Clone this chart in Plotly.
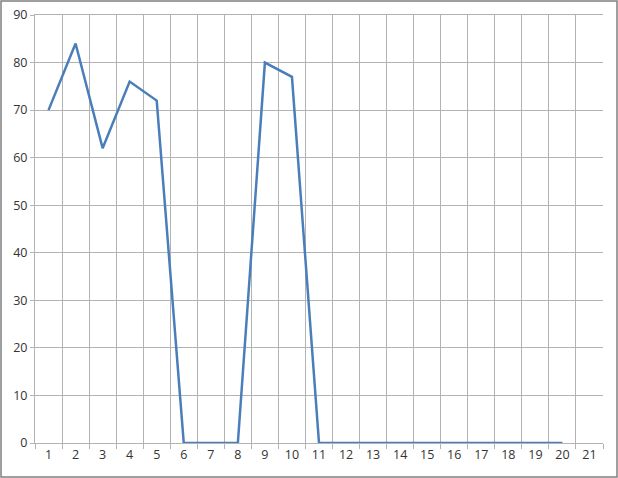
import plotly.graph_objects as go

categories = [str(i) for i in range(1, 22)]
values = [70, 84, 62, 76, 72, 0, 0, 0, 80, 77, 0, 0, 0, 0, 0, 0, 0, 0, 0, 0, None]

W, H = 618, 478
ml, mr, mt, mb = 35, 15, 15, 35
pw, ph = W - ml - mr, H - mt - mb

fig = go.Figure()
fig.add_trace(go.Scatter(x=categories, y=values, mode="lines",
                         line=dict(color="#4a7ebb", width=2.5),
                         connectgaps=False, showlegend=False))

grid = "#b3b3b3"
fig.update_layout(
    width=W, height=H,
    margin=dict(l=ml, r=mr, t=mt, b=mb, autoexpand=False),
    plot_bgcolor="white", paper_bgcolor="white",
    font=dict(family="Open Sans", size=12.5, color="#333333"),
    xaxis=dict(type="category", tickson="boundaries", showgrid=True,
               gridcolor=grid, gridwidth=1, ticks="outside", ticklen=5,
               tickcolor=grid, showline=True, linecolor=grid, linewidth=1,
               mirror=True, range=[-0.5, 20.5], zeroline=False),
    yaxis=dict(range=[0, 90], dtick=10, showgrid=True, gridcolor=grid,
               gridwidth=1, ticks="outside", ticklen=4, tickcolor=grid,
               showline=True, linecolor=grid, linewidth=1, zeroline=False),
)

# outer frame of the chart area
fig.add_shape(type="rect", xref="paper", yref="paper",
              x0=(1 - ml) / pw, x1=(W - 1 - ml) / pw,
              y0=(1 - mb) / ph, y1=(H - 1 - mb) / ph,
              line=dict(color="#808080", width=1.5), layer="above")

fig.write_html("out.html", config={"displayModeBar": False},
               post_script="document.body.style.margin='0';"
                           "document.body.style.overflow='hidden';")
